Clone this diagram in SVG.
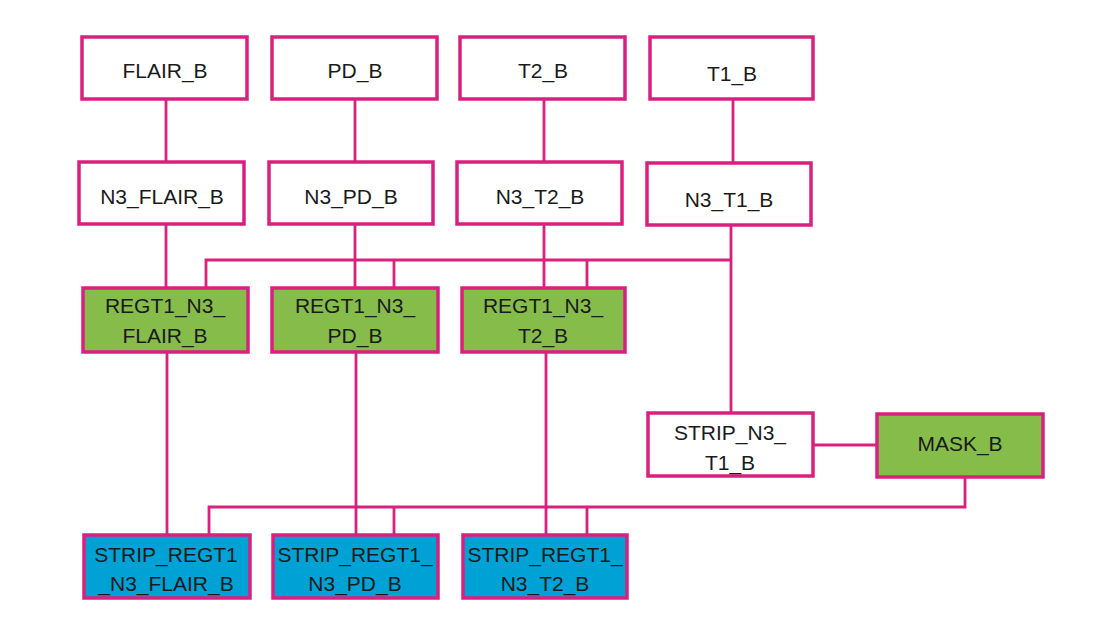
<svg xmlns="http://www.w3.org/2000/svg" width="1106" height="642" viewBox="0 0 1106 642">
<style>
.b{stroke:#d9207f;stroke-width:3.5;}
.w{fill:#ffffff;}
.g{fill:#86bc4a;}
.c{fill:#00a2d6;}
.t{font-family:"Liberation Sans",Arial,sans-serif;font-size:21px;fill:#1a1a1a;text-anchor:middle;}
.l{stroke:#d9207f;stroke-width:2.8;fill:none;}
</style>
<rect width="1106" height="642" fill="#ffffff"/>
<g id="connectors">
<path class="l" d="M166,99V162 M355,99V162 M544,99V162 M733,99V163"/>
<path class="l" d="M166,224V288 M355,224V288 M544,224V288"/>
<path class="l" d="M731,226V413 M206,288V260H731 M394,260V288 M587,260V288"/>
<path class="l" d="M167,352V535 M356,352V535 M546,352V535"/>
<path class="l" d="M813,445H877 M965,477V507H209V535 M394,507V535 M587,507V535"/>
</g>
<g id="FLAIR_B"><rect class="b w" x="82" y="37" width="165" height="62"/><text class="t" x="165" y="78">FLAIR_B</text></g>
<g id="PD_B"><rect class="b w" x="272" y="37" width="165" height="62"/><text class="t" x="355" y="78">PD_B</text></g>
<g id="T2_B"><rect class="b w" x="460" y="37" width="165" height="62"/><text class="t" x="543" y="78">T2_B</text></g>
<g id="T1_B"><rect class="b w" x="650" y="37" width="163" height="62"/><text class="t" x="732" y="81">T1_B</text></g>
<g id="N3_FLAIR_B"><rect class="b w" x="79" y="162" width="165" height="62"/><text class="t" x="162" y="204">N3_FLAIR_B</text></g>
<g id="N3_PD_B"><rect class="b w" x="269" y="162" width="164" height="62"/><text class="t" x="351" y="204">N3_PD_B</text></g>
<g id="N3_T2_B"><rect class="b w" x="457" y="162" width="165" height="62"/><text class="t" x="540" y="204">N3_T2_B</text></g>
<g id="N3_T1_B"><rect class="b w" x="647" y="163" width="164" height="62"/><text class="t" x="729" y="207">N3_T1_B</text></g>
<g id="REGT1_N3_FLAIR_B"><rect class="b g" x="83" y="288" width="165" height="64"/><text class="t" x="165" y="313">REGT1_N3_</text><text class="t" x="165" y="343">FLAIR_B</text></g>
<g id="REGT1_N3_PD_B"><rect class="b g" x="272" y="288" width="166" height="64"/><text class="t" x="355" y="313">REGT1_N3_</text><text class="t" x="355" y="343">PD_B</text></g>
<g id="REGT1_N3_T2_B"><rect class="b g" x="462" y="288" width="163" height="64"/><text class="t" x="543" y="313">REGT1_N3_</text><text class="t" x="543" y="343">T2_B</text></g>
<g id="STRIP_N3_T1_B"><rect class="b w" x="648" y="413" width="165" height="63"/><text class="t" x="730" y="440">STRIP_N3_</text><text class="t" x="730" y="470">T1_B</text></g>
<g id="MASK_B"><rect class="b g" x="877" y="414" width="166" height="63"/><text class="t" x="960" y="451">MASK_B</text></g>
<g id="STRIP_REGT1_N3_FLAIR_B"><rect class="b c" x="84" y="535" width="166" height="63"/><text class="t" x="166" y="562">STRIP_REGT1</text><text class="t" x="166" y="591">_N3_FLAIR_B</text></g>
<g id="STRIP_REGT1_N3_PD_B"><rect class="b c" x="273" y="535" width="165" height="63"/><text class="t" x="355" y="562">STRIP_REGT1_</text><text class="t" x="355" y="591">N3_PD_B</text></g>
<g id="STRIP_REGT1_N3_T2_B"><rect class="b c" x="463" y="535" width="164" height="63"/><text class="t" x="545" y="562">STRIP_REGT1_</text><text class="t" x="545" y="591">N3_T2_B</text></g>
</svg>
